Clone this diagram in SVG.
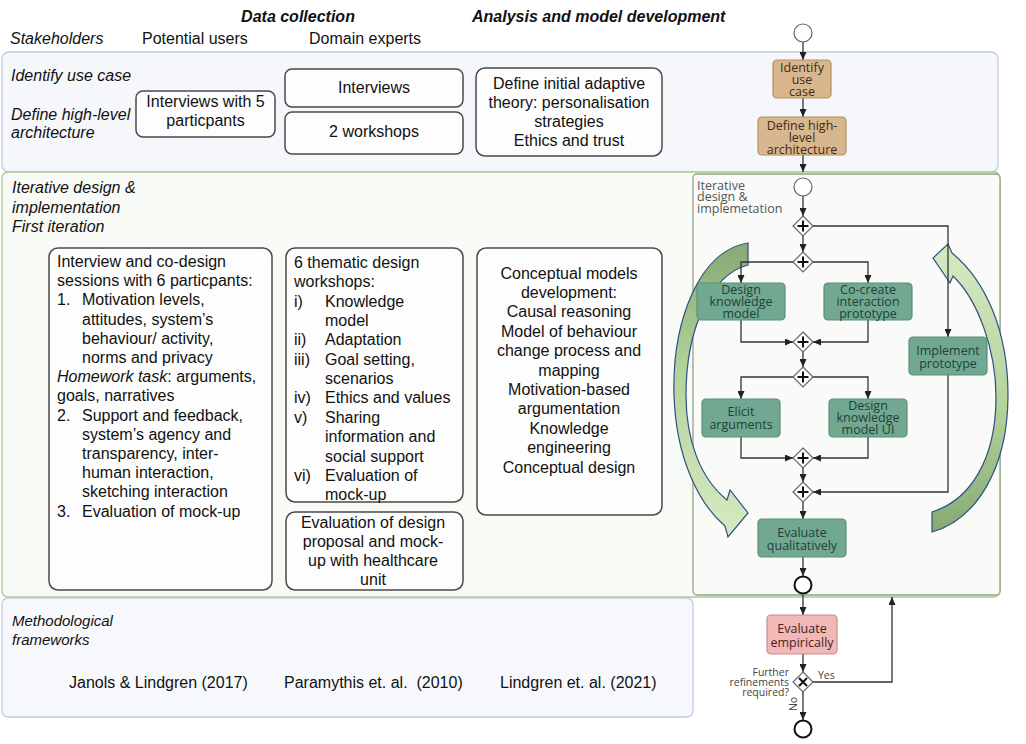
<svg xmlns="http://www.w3.org/2000/svg" width="1026" height="744" viewBox="0 0 1026 744">
<defs>
<style>
.t{font-family:"Liberation Sans",Arial,sans-serif;font-size:16px;fill:#111}
.it{font-style:italic}
.hd{font-weight:bold;font-style:italic}
.mid{text-anchor:middle}
.box{fill:#fdfdfd;stroke:#4a4a4a;stroke-width:1.5}
.task{font-family:"Open Sans","DejaVu Sans",sans-serif;font-size:12.5px;text-anchor:middle}
.gtask rect{fill:#72a892;stroke:#5a8f78;stroke-width:1.2}
.gtask text{fill:#1e4236}
.ttask rect{fill:#d8b78e;stroke:#b38f63;stroke-width:1.2}
.ttask text{fill:#3e2c18}
.ptask rect{fill:#f1b8b8;stroke:#c98c8c;stroke-width:1.2}
.ptask text{fill:#4a1c1c}
.conn path{fill:none;stroke:#333;stroke-width:1.3;marker-end:url(#arr)}
.gw{fill:#fff;stroke:#666;stroke-width:1.2}
.gwm{stroke:#111;stroke-width:2;fill:none}
.ev{fill:#fff;stroke:#666;stroke-width:1.2}
.evend{fill:#fff;stroke:#111;stroke-width:2}
.small{font-family:"Open Sans","DejaVu Sans",sans-serif;font-size:10.5px;fill:#444}
.carrow{stroke:#2f4f86;stroke-width:1.2}
</style>
<marker id="arr" viewBox="0 0 8 7" refX="8" refY="3.5" markerWidth="8" markerHeight="7" markerUnits="userSpaceOnUse" orient="auto">
<path d="M0,0 L8,3.5 L0,7 z" fill="#222"/>
</marker>
<linearGradient id="gl" x1="0" y1="0" x2="0" y2="1">
<stop offset="0" stop-color="#86aa73"/>
<stop offset="0.45" stop-color="#b5d39d"/>
<stop offset="1" stop-color="#d6eac2"/>
</linearGradient>
<linearGradient id="gr" x1="0" y1="0" x2="0" y2="1">
<stop offset="0" stop-color="#d6eac2"/>
<stop offset="0.55" stop-color="#b5d39d"/>
<stop offset="1" stop-color="#86aa73"/>
</linearGradient>
</defs>

<g id="headers">
<text class="t hd mid" x="298" y="22">Data collection</text>
<text class="t hd" x="472" y="22">Analysis and model development</text>
<text class="t it" x="10" y="44">Stakeholders</text>
<text class="t" x="142" y="44">Potential users</text>
<text class="t" x="309" y="44">Domain experts</text>
</g>

<g id="panel-top">
<rect x="2" y="52" width="996" height="120" rx="7" fill="#f5f7fb" stroke="#c0c9e0" stroke-width="1.3"/>
<text class="t it" x="11" y="81">Identify use case</text>
<text class="t it" x="11" y="120">Define high-level</text>
<text class="t it" x="11" y="138">architecture</text>
</g>

<g id="panel-iterative">
<rect x="2" y="172" width="998" height="425" rx="6" fill="#f8faf6" stroke="#aac995" stroke-width="1.3"/>
<text class="t it" x="12" y="193">Iterative design &amp;</text>
<text class="t it" x="12" y="213">implementation</text>
<text class="t it" x="12" y="232">First iteration</text>
</g>

<g id="panel-methods">
<rect x="2" y="598" width="691" height="119" rx="6" fill="#f7f8fc" stroke="#c3cbe2" stroke-width="1.3"/>
<text class="t it" x="12" y="626" style="font-size:15px">Methodological</text>
<text class="t it" x="12" y="645" style="font-size:15px">frameworks</text>
<text class="t" x="69" y="688">Janols &amp; Lindgren (2017)</text>
<text class="t" x="284" y="688" xml:space="preserve">Paramythis et. al.  (2010)</text>
<text class="t" x="500" y="688">Lindgren et. al. (2021)</text>
</g>

<g id="box-interviews-users">
<rect class="box" x="136" y="91" width="139" height="46" rx="7"/>
<text class="t mid" x="205.5" y="107">Interviews with 5</text>
<text class="t mid" x="205.5" y="126">particpants</text>
</g>
<g id="box-interviews-experts">
<rect class="box" x="285" y="69" width="178" height="38" rx="7"/>
<text class="t mid" x="374" y="92.5">Interviews</text>
</g>
<g id="box-workshops">
<rect class="box" x="285" y="112" width="178" height="42" rx="7"/>
<text class="t mid" x="374" y="137">2 workshops</text>
</g>
<g id="box-adaptive-theory">
<rect class="box" x="476" y="68" width="186" height="88" rx="9"/>
<text class="t mid" x="569" y="88.5">Define initial adaptive</text>
<text class="t mid" x="569" y="107.5">theory: personalisation</text>
<text class="t mid" x="569" y="126.5">strategies</text>
<text class="t mid" x="569" y="146">Ethics and trust</text>
</g>

<g id="box-codesign">
<rect class="box" x="49" y="248" width="223" height="342" rx="9"/>
<text class="t" x="57" y="267">Interview and co-design</text>
<text class="t" x="57" y="286.2">sessions with 6 particpants:</text>
<text class="t" x="57" y="305.4">1.</text><text class="t" x="82" y="305.4">Motivation levels,</text>
<text class="t" x="82" y="324.6">attitudes, system’s</text>
<text class="t" x="82" y="343.8">behaviour/ activity,</text>
<text class="t" x="82" y="363">norms and privacy</text>
<text class="t" x="57" y="382.2"><tspan font-style="italic">Homework task</tspan>: arguments,</text>
<text class="t" x="57" y="401.4">goals, narratives</text>
<text class="t" x="57" y="420.6">2.</text><text class="t" x="82" y="420.6">Support and feedback,</text>
<text class="t" x="82" y="439.8">system’s agency and</text>
<text class="t" x="82" y="459">transparency, inter-</text>
<text class="t" x="82" y="478.2">human interaction,</text>
<text class="t" x="82" y="497.4">sketching interaction</text>
<text class="t" x="57" y="516.6">3.</text><text class="t" x="82" y="516.6">Evaluation of mock-up</text>
</g>

<g id="box-thematic-workshops">
<rect class="box" x="286" y="248" width="177" height="254" rx="9"/>
<text class="t" x="294" y="268">6 thematic design</text>
<text class="t" x="294" y="287.4">workshops:</text>
<text class="t" x="294" y="306.7">i)</text><text class="t" x="325" y="306.7">Knowledge</text>
<text class="t" x="325" y="326">model</text>
<text class="t" x="294" y="345.4">ii)</text><text class="t" x="325" y="345.4">Adaptation</text>
<text class="t" x="294" y="364.7">iii)</text><text class="t" x="325" y="364.7">Goal setting,</text>
<text class="t" x="325" y="384.1">scenarios</text>
<text class="t" x="294" y="403.4">iv)</text><text class="t" x="325" y="403.4">Ethics and values</text>
<text class="t" x="294" y="422.8">v)</text><text class="t" x="325" y="422.8">Sharing</text>
<text class="t" x="325" y="442.1">information and</text>
<text class="t" x="325" y="461.5">social support</text>
<text class="t" x="294" y="480.8">vi)</text><text class="t" x="325" y="480.8">Evaluation of</text>
<text class="t" x="325" y="500.2">mock-up</text>
</g>

<g id="box-evaluation-healthcare">
<rect class="box" x="286" y="512" width="177" height="78" rx="9"/>
<text class="t mid" x="373" y="527.5">Evaluation of design</text>
<text class="t mid" x="373" y="546.5">proposal and mock-</text>
<text class="t mid" x="373" y="565.5">up with healthcare</text>
<text class="t mid" x="373" y="585">unit</text>
</g>

<g id="box-conceptual-models">
<rect class="box" x="477" y="248" width="185" height="267" rx="9"/>
<text class="t mid" x="569" y="278.5">Conceptual models</text>
<text class="t mid" x="569" y="297.9">development:</text>
<text class="t mid" x="569" y="317.3">Causal reasoning</text>
<text class="t mid" x="569" y="336.7">Model of behaviour</text>
<text class="t mid" x="569" y="356.1">change process and</text>
<text class="t mid" x="569" y="375.5">mapping</text>
<text class="t mid" x="569" y="394.9">Motivation-based</text>
<text class="t mid" x="569" y="414.3">argumentation</text>
<text class="t mid" x="569" y="433.7">Knowledge</text>
<text class="t mid" x="569" y="453.1">engineering</text>
<text class="t mid" x="569" y="472.5">Conceptual design</text>
</g>

<g id="subprocess-frame">
<rect x="693" y="174" width="307" height="421" rx="4" fill="#fafbf8" stroke="#93a588" stroke-width="1.3"/>
<text class="task" x="697" y="189.5" style="text-anchor:start;font-size:12.5px;fill:#555">Iterative</text>
<text class="task" x="697" y="201" style="text-anchor:start;font-size:12.5px;fill:#555">design &amp;</text>
<text class="task" x="697" y="212.5" style="text-anchor:start;font-size:12.5px;fill:#555">implemetation</text>
</g>

<g id="cycle-arrows">
<path class="carrow" fill="url(#gl)" d="M748,243 C700,250 672,320 674,395 C676,460 700,505 725,526 L728,537 L748,513 L730,490 L727,500 C700,478 686,440 686,395 C686,330 710,275 748,265 Z"/>
<path class="carrow" fill="url(#gr)" d="M932,532 C975,520 1008,470 1008,395 C1008,330 985,280 952,253 L948,244 L933,258 L950,283 L953,276 C978,300 996,350 996,397 C996,460 970,500 932,512 Z"/>
</g>

<g id="connectors" class="conn">
<path d="M803,42 V60"/>
<path d="M803,98 V117"/>
<path d="M803,155 V172"/>
<path d="M803,196 V216"/>
<path d="M803,236 V252"/>
<path d="M813,226 H948 V337"/>
<path d="M793,262 H741 V283"/>
<path d="M813,262 H868 V283"/>
<path d="M741,320 V342 H793"/>
<path d="M868,320 V342 H813"/>
<path d="M803,352 V367"/>
<path d="M793,377 H741 V399"/>
<path d="M813,377 H868 V399"/>
<path d="M741,437 V458 H793"/>
<path d="M868,437 V458 H813"/>
<path d="M803,468 V482"/>
<path d="M948,375 V492 H813"/>
<path d="M803,502 V519"/>
<path d="M803,557 V576"/>
<path d="M803,595 V615"/>
<path d="M803,654 V672"/>
<path d="M813,682 H892 V597"/>
<path d="M803,692 V720"/>
<text class="small" x="818" y="679">Yes</text>
<text class="small" transform="translate(797,704) rotate(-90)" text-anchor="middle">No</text>
</g>

<g id="start-event"><circle class="ev" cx="803" cy="33" r="9"/></g>
<g id="task-identify-use-case" class="ttask">
<rect x="773" y="60" width="58" height="38" rx="4"/>
<text class="task" x="802" y="72">Identify</text>
<text class="task" x="802" y="84">use</text>
<text class="task" x="802" y="96">case</text>
</g>
<g id="task-define-architecture" class="ttask">
<rect x="758" y="117" width="88" height="38" rx="4"/>
<text class="task" x="802" y="130">Define high-</text>
<text class="task" x="802" y="142">level</text>
<text class="task" x="802" y="154">architecture</text>
</g>
<g id="sub-start"><circle class="ev" cx="803" cy="187" r="9"/></g>
<g id="gw1"><path class="gw" d="M803,216 L813,226 L803,236 L793,226 Z"/><path class="gwm" d="M797.5,226 H808.5 M803,220.5 V231.5"/></g>
<g id="gw2"><path class="gw" d="M803,252 L813,262 L803,272 L793,262 Z"/><path class="gwm" d="M797.5,262 H808.5 M803,256.5 V267.5"/></g>
<g id="task-design-knowledge-model" class="gtask">
<rect x="697" y="283" width="88" height="37" rx="4"/>
<text class="task" x="741" y="294">Design</text>
<text class="task" x="741" y="306">knowledge</text>
<text class="task" x="741" y="318">model</text>
</g>
<g id="task-co-create" class="gtask">
<rect x="824" y="283" width="88" height="37" rx="4"/>
<text class="task" x="868" y="294">Co-create</text>
<text class="task" x="868" y="306">interaction</text>
<text class="task" x="868" y="318">prototype</text>
</g>
<g id="gw3"><path class="gw" d="M803,332 L813,342 L803,352 L793,342 Z"/><path class="gwm" d="M797.5,342 H808.5 M803,336.5 V347.5"/></g>
<g id="gw4"><path class="gw" d="M803,367 L813,377 L803,387 L793,377 Z"/><path class="gwm" d="M797.5,377 H808.5 M803,371.5 V382.5"/></g>
<g id="task-implement-prototype" class="gtask">
<rect x="909" y="337" width="78" height="38" rx="4"/>
<text class="task" x="948" y="355">Implement</text>
<text class="task" x="948" y="368">prototype</text>
</g>
<g id="task-elicit-arguments" class="gtask">
<rect x="702" y="399" width="78" height="38" rx="4"/>
<text class="task" x="741" y="416">Elicit</text>
<text class="task" x="741" y="429">arguments</text>
</g>
<g id="task-design-km-ui" class="gtask">
<rect x="829" y="399" width="78" height="38" rx="4"/>
<text class="task" x="868" y="410">Design</text>
<text class="task" x="868" y="422">knowledge</text>
<text class="task" x="868" y="434">model UI</text>
</g>
<g id="gw5"><path class="gw" d="M803,448 L813,458 L803,468 L793,458 Z"/><path class="gwm" d="M797.5,458 H808.5 M803,452.5 V463.5"/></g>
<g id="gw6"><path class="gw" d="M803,482 L813,492 L803,502 L793,492 Z"/><path class="gwm" d="M797.5,492 H808.5 M803,486.5 V497.5"/></g>
<g id="task-evaluate-qualitatively" class="gtask">
<rect x="758" y="519" width="88" height="38" rx="4"/>
<text class="task" x="802" y="537">Evaluate</text>
<text class="task" x="802" y="550">qualitatively</text>
</g>
<g id="sub-end"><circle class="evend" cx="803" cy="585" r="8.5"/></g>
<g id="task-evaluate-empirically" class="ptask">
<rect x="767" y="615" width="70" height="39" rx="4"/>
<text class="task" x="802" y="633">Evaluate</text>
<text class="task" x="802" y="646.5">empirically</text>
</g>
<g id="gw-refine">
<path class="gw" d="M803,672 L813,682 L803,692 L793,682 Z"/><path class="gwm" d="M799,678 L807,686 M807,678 L799,686"/>
<text class="small" x="789" y="676" text-anchor="end">Further</text>
<text class="small" x="789" y="686" text-anchor="end">refinements</text>
<text class="small" x="789" y="696" text-anchor="end">required?</text>
</g>
<g id="end-event"><circle class="evend" cx="803" cy="729" r="8.5"/></g>
</svg>
